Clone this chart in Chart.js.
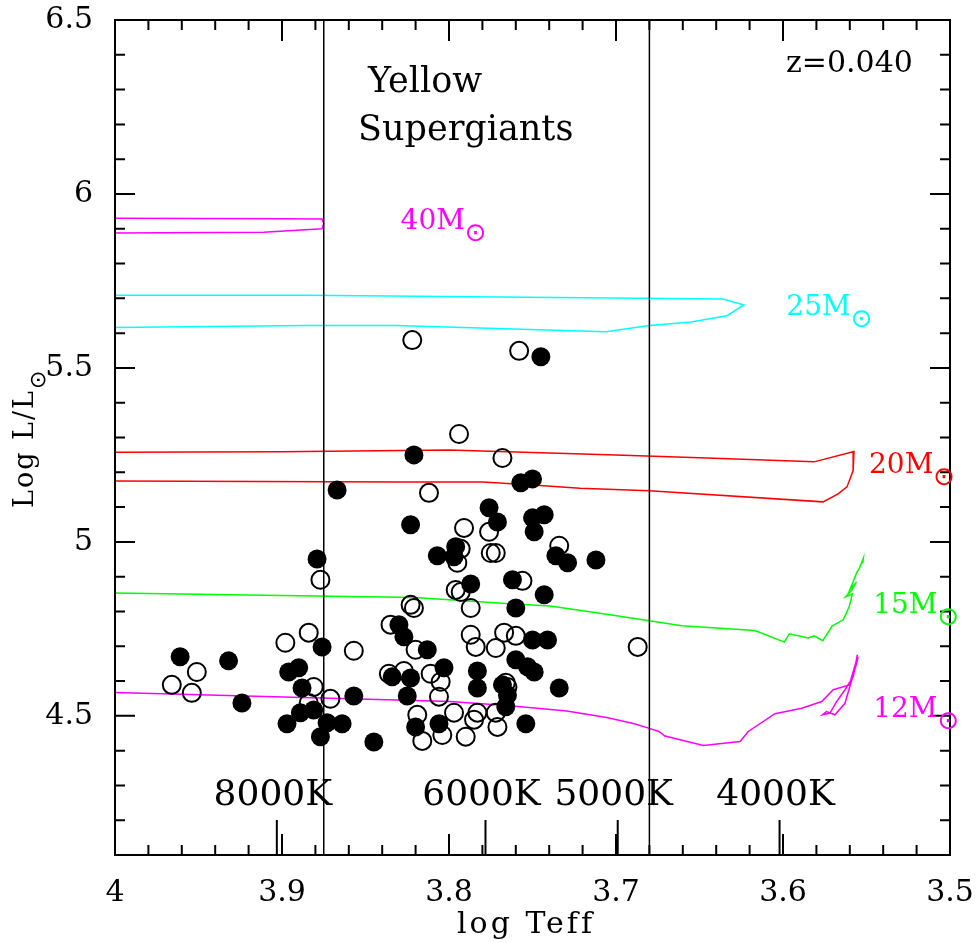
<!doctype html>
<html>
<head>
	<title>Yellow Supergiants z=0.040</title>
	<script src="https://cdn.jsdelivr.net/npm/chart.js@4/dist/chart.umd.min.js"></script>
	<style>
		body { margin: 0; background: #fff; }
		#holder { width: 980px; height: 943px; }
	</style>
</head>
<body>
	<div id="holder"><canvas id="hrd" width="980" height="943"></canvas></div>
	<script>
		// stars: log Teff / log L  (filled and open symbols)
		var filledT = [3.745,3.821,3.867,3.757,3.750,3.823,3.776,3.771,3.750,3.743,3.749,3.796,3.797,3.807,3.736,3.729,3.712,3.879,3.787,3.762,3.743,3.760,3.830,3.827,3.813,3.750,3.741,3.760,3.753,3.749,3.734,3.834,3.823,3.825,3.803,3.783,3.783,3.768,3.765,3.766,3.820,3.806,3.754,3.961,3.932,3.924,3.876,3.896,3.890,3.888,3.889,3.881,3.857,3.897,3.873,3.864,3.877,3.845];
		var filledL = [5.532,5.250,5.149,5.170,5.181,5.049,5.098,5.057,5.069,5.078,5.029,4.986,4.957,4.960,4.960,4.940,4.948,4.951,4.879,4.891,4.848,4.810,4.762,4.727,4.690,4.718,4.718,4.661,4.641,4.626,4.580,4.612,4.609,4.557,4.638,4.629,4.580,4.589,4.560,4.526,4.468,4.477,4.477,4.670,4.658,4.537,4.698,4.626,4.638,4.580,4.509,4.517,4.557,4.477,4.480,4.477,4.440,4.425];
		var openT = [3.822,3.758,3.794,3.768,3.812,3.877,3.791,3.776,3.793,3.795,3.775,3.772,3.734,3.796,3.793,3.756,3.823,3.821,3.787,3.835,3.820,3.787,3.784,3.772,3.767,3.760,3.836,3.827,3.811,3.805,3.806,3.797,3.783,3.785,3.772,3.771,3.819,3.804,3.816,3.790,3.687,3.951,3.966,3.954,3.898,3.884,3.857,3.881,3.884,3.871,3.766,3.765];
		var openL = [5.580,5.549,5.310,5.241,5.141,4.891,5.040,5.029,4.980,4.940,4.968,4.968,4.989,4.862,4.856,4.888,4.819,4.810,4.810,4.762,4.690,4.733,4.698,4.695,4.739,4.730,4.621,4.629,4.621,4.598,4.555,4.509,4.509,4.489,4.509,4.468,4.503,4.445,4.428,4.440,4.698,4.626,4.589,4.566,4.710,4.739,4.687,4.583,4.537,4.549,4.595,4.583];

		// evolutionary tracks
		var track40T = [4.02,3.90,3.876,3.875,3.876,3.911,4.02];
		var track40L = [5.930,5.929,5.928,5.915,5.900,5.890,5.887];
		var track25T = [4.02,3.886,3.636,3.6234,3.6335,3.655,3.680,3.706,3.832,3.886,4.0,4.02];
		var track25L = [5.709,5.709,5.698,5.681,5.650,5.632,5.622,5.604,5.622,5.622,5.616,5.615];
		var track20T = [4.02,3.90,3.80,3.70,3.65,3.5814,3.5575,3.558,3.5617,3.567,3.576,3.680,3.7216,3.7455,3.7796,3.829,4.0,4.02];
		var track20L = [5.257,5.259,5.264,5.250,5.242,5.230,5.2595,5.205,5.158,5.138,5.115,5.147,5.154,5.162,5.172,5.172,5.175,5.175];
		var track15T = [4.02,4.0,3.8204,3.7635,3.7395,3.7096,3.680,3.6607,3.6168,3.5992,3.5962,3.5849,3.5813,3.5762,3.5705,3.5639,3.5603,3.5585,3.5625,3.5590,3.5560,3.5600,3.5555,3.5543,3.5519,3.5523];
		var track15L = [4.854,4.853,4.840,4.822,4.816,4.795,4.773,4.759,4.745,4.712,4.736,4.724,4.730,4.716,4.759,4.776,4.814,4.850,4.842,4.860,4.885,4.862,4.915,4.924,4.953,4.938];
		var track12T = [4.02,4.0,3.8204,3.7994,3.7635,3.7295,3.7056,3.6896,3.680,3.6743,3.6707,3.6477,3.6257,3.6208,3.6048,3.5888,3.5768,3.5699,3.5603,3.5559,3.5555,3.5579,3.5629,3.5679,3.5719,3.5763,3.5740,3.5689,3.5629,3.5559,3.5550];
		var track12L = [4.570,4.567,4.544,4.541,4.529,4.514,4.495,4.478,4.464,4.455,4.442,4.415,4.426,4.455,4.506,4.522,4.541,4.575,4.589,4.661,4.675,4.613,4.575,4.541,4.508,4.503,4.512,4.503,4.536,4.651,4.670];

		// yellow supergiant boundaries (log Teff)
		var ysgBounds = [3.875, 3.68];
		// temperature marks on the bottom axis
		var tempLabels = ['8000K', '6000K', '5000K', '4000K'];
		var tempValues = [8000, 6000, 5000, 4000];
		// tick labels
		var xTicks = [4.0, 3.9, 3.8, 3.7, 3.6, 3.5];
		var yTicks = [4.5, 5, 5.5, 6, 6.5];
		// mass labels
		var massNames = ['40M', '25M', '20M', '15M', '12M'];

		function pts(xs, ys) {
			return xs.map(function (x, i) { return { x: x, y: ys[i] }; });
		}

		function trackSet(xs, ys, color) {
			return {
				data: pts(xs, ys), showLine: true, borderColor: color, borderWidth: 1.5,
				pointRadius: 0, tension: 0, fill: false, order: 3
			};
		}

		var serif = '"DejaVu Serif", "Liberation Serif", serif';

		var labelSpots = [
			{ t: 3.829, l: 5.899, c: '#ff00ff' },
			{ t: 3.598, l: 5.652, c: '#00ffff' },
			{ t: 3.5485, l: 5.198, c: '#ff0000' },
			{ t: 3.546, l: 4.796, c: '#00ff00' },
			{ t: 3.546, l: 4.497, c: '#ff00ff' }
		];

		function sunLabel(ctx, text, x, y, size, subSize, dy) {
			ctx.font = size + 'px ' + serif;
			ctx.textAlign = 'left';
			ctx.textBaseline = 'alphabetic';
			ctx.fillText(text, x, y);
			var w = ctx.measureText(text).width;
			ctx.font = subSize + 'px "DejaVu Sans"';
			ctx.textBaseline = 'middle';
			ctx.fillText('\u2299', x + w, y + dy);
		}

		var hrdDecor = {
			id: 'hrdDecor',
			afterDraw: function (chart) {
				var ctx = chart.ctx, a = chart.chartArea;
				var sx = chart.scales.x, sy = chart.scales.y;
				ctx.save();
				ctx.strokeStyle = '#000';
				ctx.lineWidth = 2;
				ctx.strokeRect(a.left, a.top, a.right - a.left, a.bottom - a.top);

				ctx.beginPath();
				var i, v, p, len;
				for (i = 0; i <= 25; i++) {
					v = 3.5 + i * 0.02;
					p = sx.getPixelForValue(v);
					len = (i % 5 === 0) ? 21 : 10;
					ctx.moveTo(p, a.bottom); ctx.lineTo(p, a.bottom - len);
					ctx.moveTo(p, a.top); ctx.lineTo(p, a.top + len);
				}
				for (i = 0; i <= 24; i++) {
					v = 4.1 + i * 0.1;
					p = sy.getPixelForValue(v);
					len = (Math.abs(v * 2 - Math.round(v * 2)) < 1e-6) ? 20 : 10;
					ctx.moveTo(a.left, p); ctx.lineTo(a.left + len, p);
					ctx.moveTo(a.right, p); ctx.lineTo(a.right - len, p);
				}
				tempValues.forEach(function (t) {
					p = sx.getPixelForValue(Math.log10(t));
					ctx.moveTo(p, a.bottom); ctx.lineTo(p, a.bottom - 35);
				});
				ctx.stroke();

				ctx.fillStyle = '#000';
				ctx.font = '36px ' + serif;
				ctx.textAlign = 'center';
				ctx.textBaseline = 'alphabetic';
				tempValues.forEach(function (t, k) {
					ctx.fillText(tempLabels[k], sx.getPixelForValue(Math.log10(t)) - 4, 805);
				});

				ctx.textAlign = 'left';
				ctx.font = '35px ' + serif;
				ctx.fillText('Yellow', 368, 92);
				ctx.fillText('Supergiants', 358, 140);
				ctx.font = '30px ' + serif;
				ctx.fillText('z=0.040', 786, 72);

				labelSpots.forEach(function (s, k) {
					ctx.fillStyle = s.c;
					sunLabel(ctx, massNames[k], sx.getPixelForValue(s.t), sy.getPixelForValue(s.l), 28, 26, 5);
				});

				// axis titles
				ctx.fillStyle = '#000';
				ctx.letterSpacing = '3px';
				ctx.font = '30px ' + serif;
				ctx.textAlign = 'center';
				ctx.textBaseline = 'alphabetic';
				ctx.fillText('log Teff', 526, 933);

				ctx.translate(33, 508);
				ctx.rotate(-Math.PI / 2);
				ctx.letterSpacing = '2px';
				sunLabel(ctx, 'Log L/L', 0, 0, 27, 22, 6);
				ctx.restore();
			}
		};

		var datasets = [
			{
				data: pts(openT, openL), pointRadius: 9, pointBorderWidth: 2,
				pointBackgroundColor: 'rgba(0,0,0,0)', pointBorderColor: '#000', order: 0
			},
			{
				data: pts(filledT, filledL), pointRadius: 9.5, pointBorderWidth: 0,
				pointBackgroundColor: '#000', pointBorderColor: '#000', order: 1
			},
			trackSet(track40T, track40L, '#ff00ff'),
			trackSet(track25T, track25L, '#00ffff'),
			trackSet(track20T, track20L, '#ff0000'),
			trackSet(track15T, track15L, '#00ff00'),
			trackSet(track12T, track12L, '#ff00ff')
		];
		ysgBounds.forEach(function (b) {
			datasets.push({
				data: [{ x: b, y: 4.1 }, { x: b, y: 6.5 }], showLine: true, borderColor: '#000',
				borderWidth: 1.5, pointRadius: 0, order: 2
			});
		});

		var config = {
			type: 'scatter',
			data: { datasets: datasets },
			options: {
				responsive: false,
				animation: false,
				devicePixelRatio: 1,
				layout: { padding: { top: 20, right: 30, left: 0, bottom: 0 } },
				plugins: { legend: { display: false }, tooltip: { enabled: false } },
				scales: {
					x: {
						type: 'linear', reverse: true, min: 3.5, max: 4.0,
						afterBuildTicks: function (s) { s.ticks = xTicks.map(function (v) { return { value: v }; }); },
						afterFit: function (s) { s.height = 88; s.paddingLeft = 0; s.paddingRight = 0; },
						grid: { display: false },
						border: { display: false },
						ticks: {
							color: '#000', padding: 12, maxRotation: 0,
							font: { family: serif, size: 30 },
							callback: function (v) { return String(v); }
						}
					},
					y: {
						type: 'linear', min: 4.1, max: 6.5,
						afterBuildTicks: function (s) { s.ticks = yTicks.map(function (v) { return { value: v }; }); },
						afterFit: function (s) { s.width = 115; s.paddingTop = 0; s.paddingBottom = 0; },
						grid: { display: false },
						border: { display: false },
						ticks: {
							color: '#000', padding: 14,
							font: { family: serif, size: 30 },
							callback: function (v) { return String(v); }
						}
					}
				}
			},
			plugins: [hrdDecor]
		};

		window.onload = function () {
			var ctx = document.getElementById('hrd').getContext('2d');
			window.hrdChart = new Chart(ctx, config);
		};
	</script>
</body>
</html>
